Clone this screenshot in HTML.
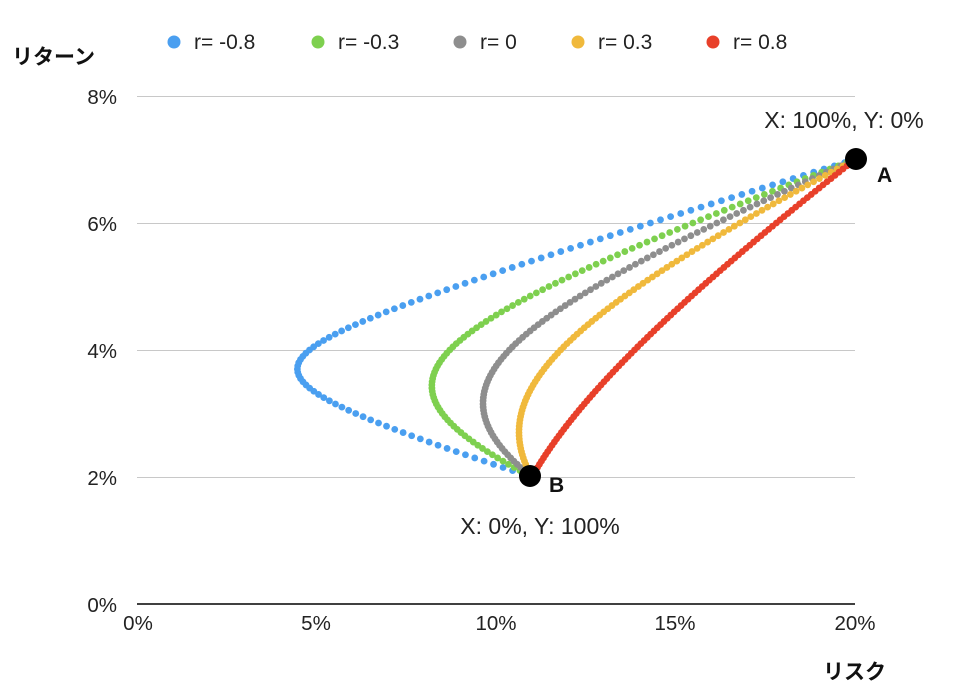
<!DOCTYPE html>
<html><head><meta charset="utf-8"><style>
html,body{margin:0;padding:0;background:#fff;}
svg{display:block;font-family:"Liberation Sans","Noto Sans CJK JP",sans-serif;}
</style></head><body>
<svg id="s" width="974" height="692" viewBox="0 0 974 692" xmlns="http://www.w3.org/2000/svg">
<g stroke="#c8c8c8" stroke-width="1">
<line x1="137" y1="96.5" x2="855" y2="96.5"/>
<line x1="137" y1="223.5" x2="855" y2="223.5"/>
<line x1="137" y1="350.5" x2="855" y2="350.5"/>
<line x1="137" y1="477.5" x2="855" y2="477.5"/>
</g>
<line x1="137" y1="604" x2="855" y2="604" stroke="#000" stroke-width="1.5"/>
<g font-size="20.5" fill="#222" text-anchor="end">
<text x="117" y="104">8%</text>
<text x="117" y="231">6%</text>
<text x="117" y="358">4%</text>
<text x="117" y="485">2%</text>
<text x="117" y="612">0%</text>
</g>
<g font-size="20.5" fill="#222" text-anchor="middle">
<text x="138" y="630">0%</text>
<text x="316" y="630">5%</text>
<text x="496" y="630">10%</text>
<text x="675" y="630">15%</text>
<text x="855" y="630">20%</text>
</g>
<text x="12" y="64" font-size="21" font-weight="bold" fill="#111">リターン</text>
<text x="823" y="679" font-size="21" font-weight="bold" fill="#111">リスク</text>
<g font-size="21" fill="#222">
<circle cx="174" cy="42" r="6.5" fill="#4a9ff0"/><text x="194" y="49">r= -0.8</text>
<circle cx="318" cy="42" r="6.5" fill="#7ed04f"/><text x="338" y="49">r= -0.3</text>
<circle cx="460" cy="42" r="6.5" fill="#8e8e8e"/><text x="480" y="49">r= 0</text>
<circle cx="578" cy="42" r="6.5" fill="#f0b93c"/><text x="598" y="49">r= 0.3</text>
<circle cx="713" cy="42" r="6.5" fill="#e8402a"/><text x="733" y="49">r= 0.8</text>
</g>
<g id="pts"></g>
<circle cx="856" cy="159" r="11" fill="#000"/>
<circle cx="530" cy="476" r="11" fill="#000"/>
<text x="844" y="128" font-size="23" fill="#222" text-anchor="middle">X: 100%, Y: 0%</text>
<text x="540" y="534" font-size="23" fill="#222" text-anchor="middle">X: 0%, Y: 100%</text>
<text x="877" y="182" font-size="21" font-weight="bold" fill="#111">A</text>
<text x="549" y="492" font-size="21" font-weight="bold" fill="#111">B</text>
</svg>
<script>
var g=document.getElementById('pts'),ns='http://www.w3.org/2000/svg';
var sets=[[-0.8,'#4a9ff0'],[-0.3,'#7ed04f'],[0,'#8e8e8e'],[0.3,'#f0b93c'],[0.8,'#e8402a']];
sets.forEach(function(s){
 for(var i=0;i<=100;i++){var w=i/100;
  var v=w*w*400+(1-w)*(1-w)*121+2*w*(1-w)*s[0]*220;
  var risk=Math.sqrt(Math.max(v,0)),ret=7*w+2*(1-w);
  var c=document.createElementNS(ns,'circle');
  c.setAttribute('cx',137+risk*35.9);c.setAttribute('cy',604-ret*63.5);
  c.setAttribute('r',3.4);c.setAttribute('fill',s[1]);g.appendChild(c);}
});
</script>
</body></html>
